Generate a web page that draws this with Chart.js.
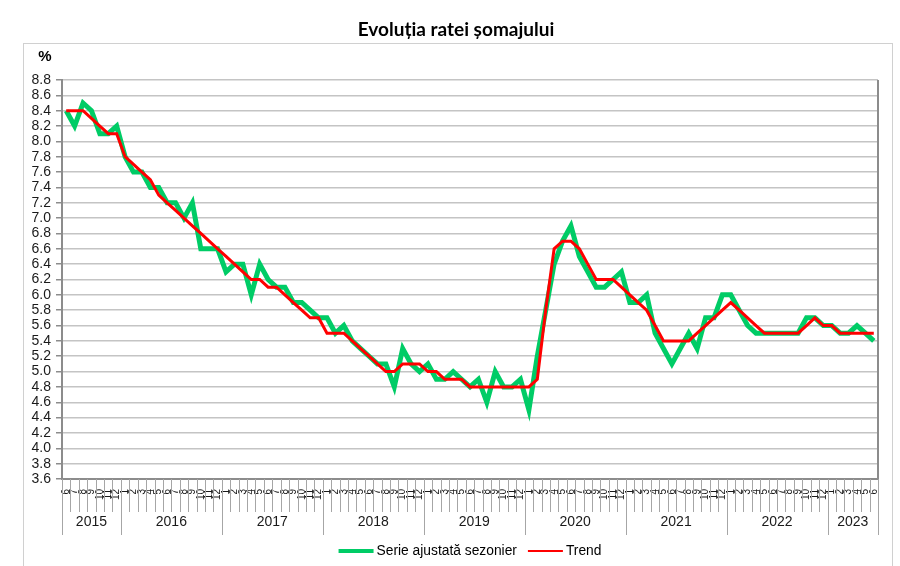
<!DOCTYPE html>
<html lang="ro">
<head>
<meta charset="utf-8">
<title>Evoluția ratei șomajului</title>
<script src="https://cdn.jsdelivr.net/npm/chart.js@4.4.0/dist/chart.umd.min.js"></script>
<style>
    html, body { margin: 0; padding: 0; background: #fff; }
</style>
</head>
<body>
<canvas id="somajChart" width="900" height="566"></canvas>
<script>
// Categories: years and the months shown for each of them
const years = ['2015', '2016', '2017', '2018', '2019', '2020', '2021', '2022', '2023'];
const monthsByYear = [
    [6, 7, 8, 9, 10, 11, 12],
    [1, 2, 3, 4, 5, 6, 7, 8, 9, 10, 11, 12],
    [1, 2, 3, 4, 5, 6, 7, 8, 9, 10, 11, 12],
    [1, 2, 3, 4, 5, 6, 7, 8, 9, 10, 11, 12],
    [1, 2, 3, 4, 5, 6, 7, 8, 9, 10, 11, 12],
    [1, 2, 3, 4, 5, 6, 7, 8, 9, 10, 11, 12],
    [1, 2, 3, 4, 5, 6, 7, 8, 9, 10, 11, 12],
    [1, 2, 3, 4, 5, 6, 7, 8, 9, 10, 11, 12],
    [1, 2, 3, 4, 5, 6]
];
const months = monthsByYear.flat().map(String);

// Seasonally adjusted series (%)
const serieAjustata = [
    8.4, 8.2, 8.5, 8.4, 8.1, 8.1, 8.2,
    7.8, 7.6, 7.6, 7.4, 7.4, 7.2, 7.2, 7.0, 7.2, 6.6, 6.6, 6.6,
    6.3, 6.4, 6.4, 6.0, 6.4, 6.2, 6.1, 6.1, 5.9, 5.9, 5.8, 5.7,
    5.7, 5.5, 5.6, 5.4, 5.3, 5.2, 5.1, 5.1, 4.8, 5.3, 5.1, 5.0,
    5.1, 4.9, 4.9, 5.0, 4.9, 4.8, 4.9, 4.6, 5.0, 4.8, 4.8, 4.9,
    4.5, 5.2, 5.8, 6.4, 6.7, 6.9, 6.5, 6.3, 6.1, 6.1, 6.2, 6.3,
    5.9, 5.9, 6.0, 5.5, 5.3, 5.1, 5.3, 5.5, 5.3, 5.7, 5.7, 6.0,
    6.0, 5.8, 5.6, 5.5, 5.5, 5.5, 5.5, 5.5, 5.5, 5.7, 5.7, 5.6,
    5.6, 5.5, 5.5, 5.6, 5.5, 5.4
];

// Trend (%)
const trend = [
    8.4, 8.4, 8.4, 8.3, 8.2, 8.1, 8.1,
    7.8, 7.7, 7.6, 7.5, 7.3, 7.2, 7.1, 7.0, 6.9, 6.8, 6.7, 6.6,
    6.5, 6.4, 6.3, 6.2, 6.2, 6.1, 6.1, 6.0, 5.9, 5.8, 5.7, 5.7,
    5.5, 5.5, 5.5, 5.4, 5.3, 5.2, 5.1, 5.0, 5.0, 5.1, 5.1, 5.1,
    5.0, 5.0, 4.9, 4.9, 4.9, 4.8, 4.8, 4.8, 4.8, 4.8, 4.8, 4.8,
    4.8, 4.9, 5.8, 6.6, 6.7, 6.7, 6.6, 6.4, 6.2, 6.2, 6.2, 6.1,
    6.0, 5.9, 5.8, 5.6, 5.4, 5.4, 5.4, 5.4, 5.5, 5.6, 5.7, 5.8,
    5.9, 5.8, 5.7, 5.6, 5.5, 5.5, 5.5, 5.5, 5.5, 5.6, 5.7, 5.6,
    5.6, 5.5, 5.5, 5.5, 5.5, 5.5
];

// Value axis
const yMin = 3.6;
const yMax = 8.8;
const yStep = 0.2;

const chartTitle = 'Evoluția ratei șomajului';
const labelFont = "'Liberation Sans', Arial, sans-serif";

// Draws the title, month tick marks, year groups, plot border, % sign, legend and frame
const axisDecor = {
    id: 'axisDecor',
    afterDraw(chart) {
        const ctx = chart.ctx;
        const area = chart.chartArea;
        const x = chart.scales.x;
        const step = x.getPixelForValue(1) - x.getPixelForValue(0);
        const first = x.getPixelForValue(0) - step / 2;

        ctx.save();

        // title
        ctx.fillStyle = '#000';
        ctx.font = "bold 19px Lato, 'Open Sans', sans-serif";
        ctx.textAlign = 'center';
        ctx.textBaseline = 'middle';
        ctx.fillText(chartTitle, 456, 30);

        // month separators under the axis
        ctx.strokeStyle = '#a6a6a6';
        ctx.lineWidth = 1;
        for (let i = 0; i <= months.length; i++) {
            const px = Math.round(first + i * step) + 0.5;
            ctx.beginPath();
            ctx.moveTo(px, area.bottom);
            ctx.lineTo(px, area.bottom + 33);
            ctx.stroke();
        }

        // year groups
        ctx.fillStyle = '#1a1a1a';
        ctx.font = '14px ' + labelFont;
        let start = 0;
        years.forEach((yr, k) => {
            const left = first + start * step;
            const right = left + monthsByYear[k].length * step;
            [left, right].forEach(edge => {
                const px = Math.round(edge) + 0.5;
                ctx.beginPath();
                ctx.moveTo(px, area.bottom);
                ctx.lineTo(px, area.bottom + 56);
                ctx.stroke();
            });
            ctx.fillText(yr, (left + right) / 2, area.bottom + 43);
            start += monthsByYear[k].length;
        });

        // right border of the plot area
        ctx.strokeStyle = '#8c8c8c';
        ctx.lineWidth = 2;
        ctx.beginPath();
        ctx.moveTo(area.right, area.top);
        ctx.lineTo(area.right, area.bottom);
        ctx.stroke();

        // unit label
        ctx.fillStyle = '#000';
        ctx.font = 'bold 15px ' + labelFont;
        ctx.fillText('%', 45, 57);

        // legend, centred under the plot
        ctx.font = '13.8px ' + labelFont;
        ctx.textAlign = 'left';
        const sample = 35, gap = 3, itemGap = 11, legendY = 551;
        const items = chart.data.datasets.map(ds => ({
            text: ds.label,
            color: ds.borderColor,
            width: ds.borderWidth,
            size: sample + gap + ctx.measureText(ds.label).width
        }));
        const total = items.reduce((s, it) => s + it.size, 0) + itemGap * (items.length - 1);
        let lx = 470 - total / 2;
        items.forEach(it => {
            ctx.strokeStyle = it.color;
            ctx.lineWidth = it.width - 1;
            ctx.beginPath();
            ctx.moveTo(lx, legendY);
            ctx.lineTo(lx + sample, legendY);
            ctx.stroke();
            ctx.fillStyle = '#000';
            ctx.fillText(it.text, lx + sample + gap, legendY);
            lx += it.size + itemGap;
        });

        // outer frame
        ctx.strokeStyle = '#d0d0d0';
        ctx.lineWidth = 1;
        ctx.strokeRect(23.5, 43.5, 869, 530);

        ctx.restore();
    }
};

// Initialize chart
const ctx = document.getElementById('somajChart').getContext('2d');
const somajChart = new Chart(ctx, {
    type: 'line',
    data: {
        labels: months,
        datasets: [{
            label: 'Serie ajustată sezonier',
            data: serieAjustata,
            borderColor: '#00cc66',
            backgroundColor: '#00cc66',
            borderWidth: 5,
            pointRadius: 0,
            tension: 0,
            order: 2
        }, {
            label: 'Trend',
            data: trend,
            borderColor: '#ff0000',
            backgroundColor: '#ff0000',
            borderWidth: 3,
            pointRadius: 0,
            tension: 0,
            order: 1
        }]
    },
    options: {
        responsive: false,
        animation: false,
        layout: {
            padding: { left: 0, right: 22, top: 80, bottom: 32 }
        },
        plugins: {
            title: { display: false },
            legend: { display: false },
            tooltip: { enabled: false }
        },
        scales: {
            x: {
                offset: true,
                grid: { display: false },
                border: { color: '#8c8c8c', width: 2 },
                ticks: {
                    autoSkip: false,
                    minRotation: 90,
                    maxRotation: 90,
                    padding: 2,
                    color: '#1a1a1a',
                    font: { family: labelFont, size: 10 }
                },
                afterFit: scale => { scale.height = 55; }
            },
            y: {
                min: yMin,
                max: yMax,
                grid: {
                    color: '#c4c4c4',
                    lineWidth: 1.5,
                    tickColor: '#8c8c8c',
                    tickLength: 6
                },
                border: { color: '#8c8c8c', width: 2 },
                ticks: {
                    autoSkip: false,
                    stepSize: yStep,
                    padding: 5,
                    color: '#1a1a1a',
                    font: { family: labelFont, size: 14 },
                    callback: value => value.toFixed(1)
                },
                afterFit: scale => { scale.width = 62; }
            }
        }
    },
    plugins: [axisDecor]
});
</script>
</body>
</html>
